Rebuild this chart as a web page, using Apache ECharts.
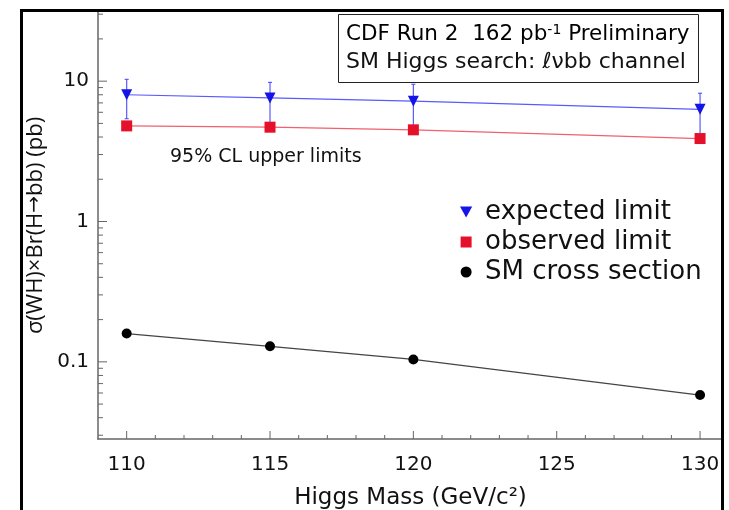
<!DOCTYPE html>
<html>
<head>
<meta charset="utf-8">
<script src="https://cdn.jsdelivr.net/npm/echarts@6/dist/echarts.min.js"></script>
<style>
html,body{margin:0;padding:0;background:#fff;}
#chart{width:729px;height:510px;}
</style>
</head>
<body>
<div id="chart"></div>
<script>
// ---- data ----
const masses = [110, 115, 120, 130];
const expectedLimit = [8.0, 7.6, 7.2, 6.3];
const expectedLow = [5.4, 4.8, 4.6, 3.9];
const expectedHigh = [10.3, 9.8, 9.5, 8.2];
const observedLimit = [4.8, 4.7, 4.5, 3.9];
const smCrossSection = [0.159, 0.129, 0.104, 0.058];
const xMajorTicks = [110, 115, 120, 125, 130];
const xMinorTicks = [111,112,113,114,116,117,118,119,121,122,123,124,126,127,128,129];
const yMajorTicks = [0.1, 1, 10];
const yMinorTicks = [0.03,0.04,0.05,0.06,0.07,0.08,0.09,0.2,0.3,0.4,0.5,0.6,0.7,0.8,0.9,2,3,4,5,6,7,8,9,20,30];
const seriesNames = ['expected limit', 'observed limit', 'SM cross section'];

const FONT = 'DejaVu Sans';
const FONT2 = 'Open Sans';
const xMin = 109, xMax = 130.8;
const yMin = 0.0282, yMax = 31.1;
const TICK_COLOR = '#666';

const chart = echarts.init(document.getElementById('chart'), null, {renderer: 'canvas'});

function pairs(xs, ys) { return xs.map((x, i) => [x, ys[i]]); }

function xTickSeries(values, len) {
  return {
    type: 'custom', silent: true, clip: false, z: 1,
    data: values.map(v => [v, yMin]),
    encode: {x: 0, y: 1},
    renderItem: function (params, api) {
      const p = api.coord([api.value(0), api.value(1)]);
      return {type: 'line', shape: {x1: p[0], y1: p[1], x2: p[0], y2: p[1] - len},
              style: {stroke: TICK_COLOR, lineWidth: 1}};
    }
  };
}
function yTickSeries(values, len) {
  return {
    type: 'custom', silent: true, clip: false, z: 1,
    data: values.map(v => [xMin, v]),
    encode: {x: 0, y: 1},
    renderItem: function (params, api) {
      const p = api.coord([api.value(0), api.value(1)]);
      return {type: 'line', shape: {x1: p[0], y1: p[1], x2: p[0] + len, y2: p[1]},
              style: {stroke: TICK_COLOR, lineWidth: 1}};
    }
  };
}

const option = {
  backgroundColor: '#ffffff',
  animation: false,
  textStyle: {fontFamily: FONT, color: '#111'},
  grid: {left: 98, right: 6, top: 12, bottom: 71, containLabel: false, outerBoundsMode: 'none'},
  xAxis: {
    type: 'value', min: xMin, max: xMax,
    name: 'Higgs Mass (GeV/c²)', nameLocation: 'middle', nameGap: 48,
    nameTextStyle: {fontFamily: FONT, fontSize: 23, color: '#111'},
    axisLine: {lineStyle: {color: '#666', width: 1.5}},
    axisTick: {show: false},
    axisLabel: {customValues: xMajorTicks, fontFamily: FONT, fontSize: 20, color: '#111', margin: 16},
    splitLine: {show: false}
  },
  yAxis: {
    type: 'log', logBase: 10, min: yMin, max: yMax,
    name: '{a|σ(WH)×Br(H}{b|→}{a|bb) (pb)}', nameLocation: 'middle', nameGap: 47,
    nameTextStyle: {
      fontFamily: FONT2, fontSize: 22, color: '#111',
      rich: {
        a: {fontFamily: FONT2, fontSize: 22, color: '#111'},
        b: {fontFamily: FONT, fontSize: 20, color: '#111'}
      }
    },
    axisLine: {show: true, lineStyle: {color: '#666', width: 1.5}},
    axisTick: {show: false},
    axisLabel: {customValues: yMajorTicks, fontFamily: FONT, fontSize: 20, color: '#111', margin: 9,
      formatter: v => String(v)},
    splitLine: {show: false}
  },
  legend: {
    orient: 'vertical', left: 455, top: 193,
    itemWidth: 28, itemHeight: 11, itemGap: 2,
    textStyle: {fontFamily: FONT, fontSize: 26, color: '#111', lineHeight: 28},
    data: [
      {name: seriesNames[0], icon: 'path://M0,0L10,0L5,9Z'},
      {name: seriesNames[1], icon: 'path://M0,0L10,0L10,10L0,10Z'},
      {name: seriesNames[2], icon: 'circle'}
    ]
  },
  series: [
    xTickSeries(xMajorTicks, 8),
    xTickSeries(xMinorTicks, 4),
    yTickSeries(yMajorTicks, 9),
    yTickSeries(yMinorTicks, 5),
    {
      type: 'custom', name: 'errbars', silent: true, z: 2,
      data: masses.map((m, i) => [m, expectedLow[i], expectedHigh[i]]),
      encode: {x: 0, y: [1, 2]},
      renderItem: function (params, api) {
        const lo = api.coord([api.value(0), api.value(1)]);
        const hi = api.coord([api.value(0), api.value(2)]);
        return {
          type: 'group',
          children: [
            {type: 'line', shape: {x1: lo[0], y1: lo[1], x2: hi[0], y2: hi[1]}, style: {stroke: '#5a5aff', lineWidth: 1.2}},
            {type: 'line', shape: {x1: hi[0] - 2, y1: hi[1], x2: hi[0] + 2, y2: hi[1]}, style: {stroke: '#5a5aff', lineWidth: 1.2}},
            {type: 'line', shape: {x1: lo[0] - 2, y1: lo[1], x2: lo[0] + 2, y2: lo[1]}, style: {stroke: '#5a5aff', lineWidth: 1.2}}
          ]
        };
      }
    },
    {
      type: 'line', name: seriesNames[0], z: 4,
      data: pairs(masses, expectedLimit),
      symbol: 'triangle', symbolRotate: 180, symbolSize: 11,
      itemStyle: {color: '#1414e6'},
      lineStyle: {color: '#5a5aff', width: 1.2}
    },
    {
      type: 'line', name: seriesNames[1], z: 4,
      data: pairs(masses, observedLimit),
      symbol: 'rect', symbolSize: 11,
      itemStyle: {color: '#e5102a'},
      lineStyle: {color: '#f0606e', width: 1.2}
    },
    {
      type: 'line', name: seriesNames[2], z: 4,
      data: pairs(masses, smCrossSection),
      symbol: 'circle', symbolSize: 10,
      itemStyle: {color: '#000'},
      lineStyle: {color: '#444', width: 1.2}
    }
  ],
  graphic: [
    {
      type: 'rect', z: 10, silent: true,
      shape: {x: 338.5, y: 14.5, width: 360, height: 68},
      style: {fill: '#fff', stroke: '#222', lineWidth: 1}
    },
    {
      type: 'text', z: 11, left: 346, top: 23,
      style: {
        text: '{a|CDF Run 2  162 pb}{s|-1}{a| Preliminary}',
        rich: {
          a: {fontFamily: FONT, fontSize: 21.5, color: '#111', verticalAlign: 'bottom'},
          s: {fontFamily: FONT, fontSize: 14, color: '#111', verticalAlign: 'top'}
        }
      }
    },
    {
      type: 'text', z: 11, left: 346, top: 51,
      style: {text: 'SM Higgs search: ℓνbb channel', fontFamily: FONT, fontSize: 22, fill: '#111'}
    },
    {
      type: 'text', z: 11, left: 170, top: 148,
      style: {text: '95% CL upper limits', fontFamily: FONT, fontSize: 19, fill: '#111'}
    },
    {
      type: 'rect', z: 20, silent: true,
      shape: {x: 21.5, y: 10.5, width: 701, height: 520},
      style: {fill: 'none', stroke: '#000', lineWidth: 3}
    }
  ]
};
chart.setOption(option);
</script>
</body>
</html>
